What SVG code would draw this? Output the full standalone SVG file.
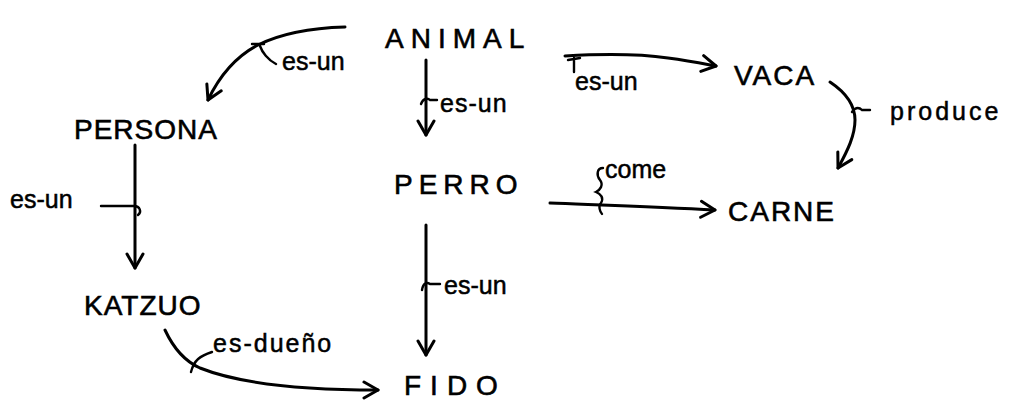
<svg xmlns="http://www.w3.org/2000/svg" width="1031" height="403" viewBox="0 0 1031 403">
<style>
.n{font-family:"Liberation Sans",Arial,sans-serif;font-size:28px;fill:#000;stroke:#000;stroke-width:0.6}
.l{font-family:"Liberation Sans",Arial,sans-serif;font-size:25px;fill:#000;stroke:#000;stroke-width:0.5}
.c{fill:none;stroke:#000;stroke-width:3;stroke-linecap:round;stroke-linejoin:round}
.t{fill:none;stroke:#000;stroke-width:2.4;stroke-linecap:round}
</style>
<defs>
<marker id="a" viewBox="0 0 20 20" refX="16" refY="10" markerWidth="20" markerHeight="20" markerUnits="userSpaceOnUse" orient="auto">
<path d="M2,2 L16,10 L2,18" fill="none" stroke="#000" stroke-width="3" stroke-linecap="round" stroke-linejoin="round"/>
</marker>
</defs>
<rect width="1031" height="403" fill="#fff"/>
<g id="animal"><text class="n" x="385" y="48" letter-spacing="7">ANIMAL</text></g>
<g id="persona"><text class="n" x="74" y="139" letter-spacing="1">PERSONA</text></g>
<g id="perro"><text class="n" x="394" y="194" letter-spacing="6">PERRO</text></g>
<g id="vaca"><text class="n" x="734" y="85" font-size="24" letter-spacing="2">VACA</text></g>
<g id="carne"><text class="n" x="728" y="221" letter-spacing="2">CARNE</text></g>
<g id="katzuo"><text class="n" x="84" y="315" letter-spacing="1">KATZUO</text></g>
<g id="fido"><text class="n" x="404" y="395" font-size="30" letter-spacing="9">FIDO</text></g>
<g id="connectors">
<path class="c" d="M345,27 C310,28 280,34 258,45 C235,57 220,75 208,100" marker-end="url(#a)"/>
<path class="t" d="M252,44 L264,44 M260,46 C262,52 268,60 276,64"/>
<text class="l" x="282" y="70">es-un</text>
<path class="c" d="M426,60 L426,135" marker-end="url(#a)"/>
<path class="t" d="M421,104 C423,98 428,98 430,100 L437,100"/>
<text class="l" x="440" y="112" letter-spacing="1">es-un</text>
<path class="c" d="M565,56 C600,54 640,54 668,58 C690,61 705,64 716,66" marker-end="url(#a)"/>
<path class="t" d="M568,60 L580,58 M574,58 L574,72"/>
<text class="l" x="575" y="90">es-un</text>
<path class="c" d="M830,82 C845,92 855,105 855,120 C855,135 848,150 838,168" marker-end="url(#a)"/>
<path class="t" d="M852,112 C856,106 860,108 862,110 L870,110"/>
<text class="l" x="890" y="120" letter-spacing="3">produce</text>
<path class="c" d="M135,145 L135,268" marker-end="url(#a)"/>
<path class="t" d="M101,206 L134,206 C140,206 142,212 138,215"/>
<text class="l" x="10" y="208">es-un</text>
<path class="c" d="M550,203 C600,205 660,207 715,210" marker-end="url(#a)"/>
<path class="t" d="M603,168 C597,168 596,175 600,180 C604,185 600,190 596,192 C601,194 604,198 601,203 C598,206 600,212 602,214"/>
<text class="l" x="605" y="178">come</text>
<path class="c" d="M426,225 L426,355" marker-end="url(#a)"/>
<path class="t" d="M422,290 C423,283 427,282 430,284 L440,284"/>
<text class="l" x="444" y="294">es-un</text>
<path class="c" d="M165,330 C172,345 182,360 200,368 C240,384 300,390 378,390" marker-end="url(#a)"/>
<path class="t" d="M191,372 C194,360 200,356 212,352"/>
<text class="l" x="213" y="352" letter-spacing="2">es-dueño</text>
</g>
</svg>
